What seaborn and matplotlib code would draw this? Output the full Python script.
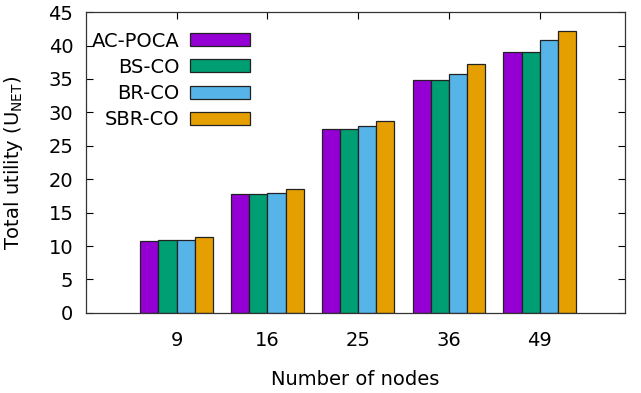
import matplotlib
matplotlib.use("Agg")
import matplotlib.pyplot as plt
import seaborn as sns
import pandas as pd

# 数据
nodes = ["9", "16", "25", "36", "49"]
methods = ["AC-POCA", "BS-CO", "BR-CO", "SBR-CO"]
ac_poca = [10.75, 17.8, 27.5, 34.9, 39.0]
bs_co = [10.85, 17.8, 27.5, 34.9, 39.0]
br_co = [10.95, 18.0, 27.95, 35.8, 40.8]
sbr_co = [11.35, 18.6, 28.7, 37.2, 42.2]
colors = ["#9400d3", "#009e73", "#56b4e9", "#e69f00"]

rows = []
for m, vals in zip(methods, [ac_poca, bs_co, br_co, sbr_co]):
    for n, v in zip(nodes, vals):
        rows.append({"nodes": n, "method": m, "utility": v})
data = pd.DataFrame(rows)

sns.set_style("ticks")
plt.rcParams['font.family'] = ['DejaVu Sans']
plt.rcParams['mathtext.default'] = 'regular'
plt.rcParams['text.color'] = 'black'
plt.rcParams['axes.labelcolor'] = 'black'
plt.rcParams['xtick.color'] = 'black'
plt.rcParams['ytick.color'] = 'black'

fig = plt.figure(figsize=(6.41, 3.93), dpi=100)
ax = fig.add_axes([0.134, 0.204, 0.841, 0.765])

sns.barplot(data=data, x="nodes", y="utility", hue="method", order=nodes,
            hue_order=methods, palette=colors, saturation=1, width=0.8,
            edgecolor="#222222", linewidth=0.9, ax=ax)

ax.set_xlim(-1.0, 4.94)
ax.set_ylim(0, 45)
ax.set_yticks(range(0, 46, 5))
ax.set_xlabel("Number of nodes", fontsize=14, labelpad=14.5)
ax.set_ylabel(r"Total utility (U$_{NET}$)", fontsize=14, labelpad=17)
ax.tick_params(axis="both", direction="in", length=5, width=0.8, labelsize=14,
               top=True, right=True)
ax.tick_params(axis="x", pad=13)
ax.tick_params(axis="y", pad=9)
for s in ax.spines.values():
    s.set_visible(True)
    s.set_linewidth(0.9)
    s.set_color("#333333")

handles, labels = ax.get_legend_handles_labels()
leg = ax.legend(handles, labels, loc="upper left", bbox_to_anchor=(0.0, 0.955),
                frameon=False, markerfirst=False, fontsize=14,
                handlelength=3.1, handleheight=0.65, handletextpad=0.55,
                labelspacing=0.37, borderaxespad=0.2, borderpad=0.1)
for col in leg._legend_handle_box.get_children():
    col.align = "right"

fig.savefig("out.png", dpi=100)
